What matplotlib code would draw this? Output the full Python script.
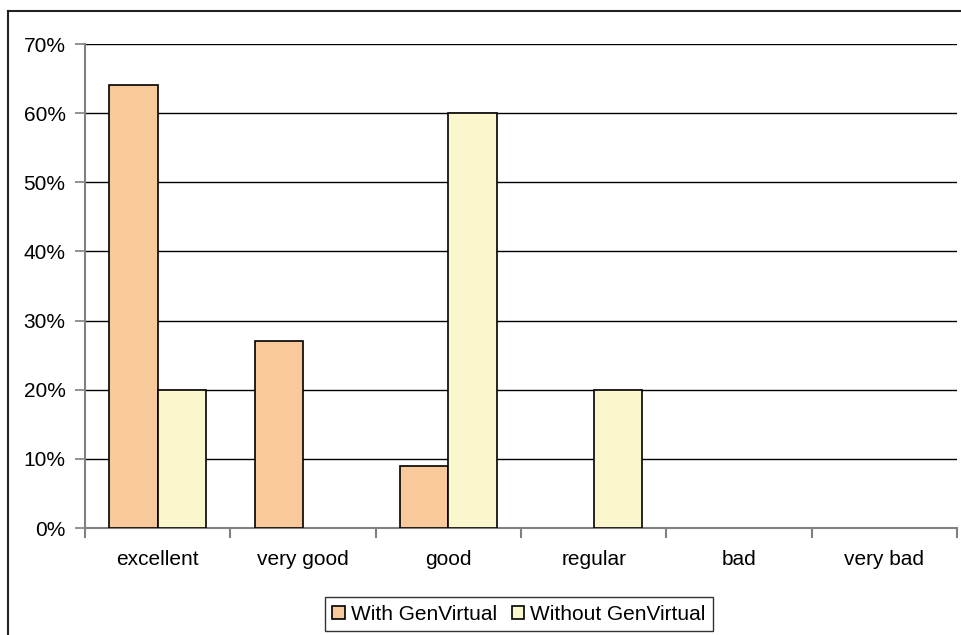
import matplotlib
matplotlib.use('Agg')
import matplotlib.pyplot as plt
import numpy as np
from matplotlib.lines import Line2D
from matplotlib.ticker import FuncFormatter

plt.rcParams['font.family'] = ['Liberation Sans', 'DejaVu Sans']

categories = ['excellent', 'very good', 'good', 'regular', 'bad', 'very bad']
with_gv = [64, 27, 9, 0, 0, 0]
without_gv = [20, 0, 60, 20, 0, 0]

fig = plt.figure(figsize=(9.61, 6.35), dpi=100)
ax = fig.add_axes([85 / 961, 1 - 528 / 635, 872 / 961, 484 / 635])

x = np.arange(len(categories))
w = 1 / 3
b1 = ax.bar(x - w / 2, with_gv, w, color='#F8C99B', edgecolor='black', linewidth=1.2,
            label='With GenVirtual', zorder=3)
b2 = ax.bar(x + w / 2, without_gv, w, color='#FAF7CD', edgecolor='black', linewidth=1.2,
            label='Without GenVirtual', zorder=3)
# empty categories get no outline
for bars, vals in ((b1, with_gv), (b2, without_gv)):
    for p, v in zip(bars, vals):
        if v == 0:
            p.set_visible(False)

ax.set_xlim(-0.5, len(categories) - 0.5)
ax.set_ylim(0, 70)
ax.set_yticks(np.arange(0, 71, 10))
ax.yaxis.set_major_formatter(FuncFormatter(lambda v, p: f'{v:.0f}%'))
ax.yaxis.grid(True, color='black', linewidth=1)
ax.set_axisbelow(True)

# category labels sit between boundary ticks
ax.set_xticks(np.arange(-0.5, len(categories), 1))
ax.set_xticklabels([])
ax.set_xticks(x, minor=True)
ax.set_xticklabels(categories, minor=True, fontsize=15)
ax.tick_params(axis='x', which='minor', length=0, pad=16)
ax.tick_params(axis='x', which='major', length=7, color='#808080', width=1.5, direction='out')
ax.tick_params(axis='y', length=7, color='#808080', width=1.2, labelsize=15, pad=7)

for s in ['top', 'right']:
    ax.spines[s].set_visible(False)
for s in ['left', 'bottom']:
    ax.spines[s].set_color('#808080')
    ax.spines[s].set_linewidth(1.5)

leg = ax.legend(loc='center', bbox_to_anchor=(519 / 961, 1 - 614 / 635),
                bbox_transform=fig.transFigure, ncol=2, fontsize=15,
                frameon=True, fancybox=False, edgecolor='black',
                handlelength=0.6, handleheight=0.6, handletextpad=0.3,
                columnspacing=0.7, borderpad=0.35)
leg.get_frame().set_linewidth(1)

# outer chart frame (left and top edges)
fig.add_artist(Line2D([8 / 961, 8 / 961], [0, 1 - 11 / 635], transform=fig.transFigure,
                      color='#222222', linewidth=1.5))
fig.add_artist(Line2D([8 / 961, 1], [1 - 11 / 635, 1 - 11 / 635], transform=fig.transFigure,
                      color='#222222', linewidth=1.5))

fig.savefig('out.png', dpi=100)
